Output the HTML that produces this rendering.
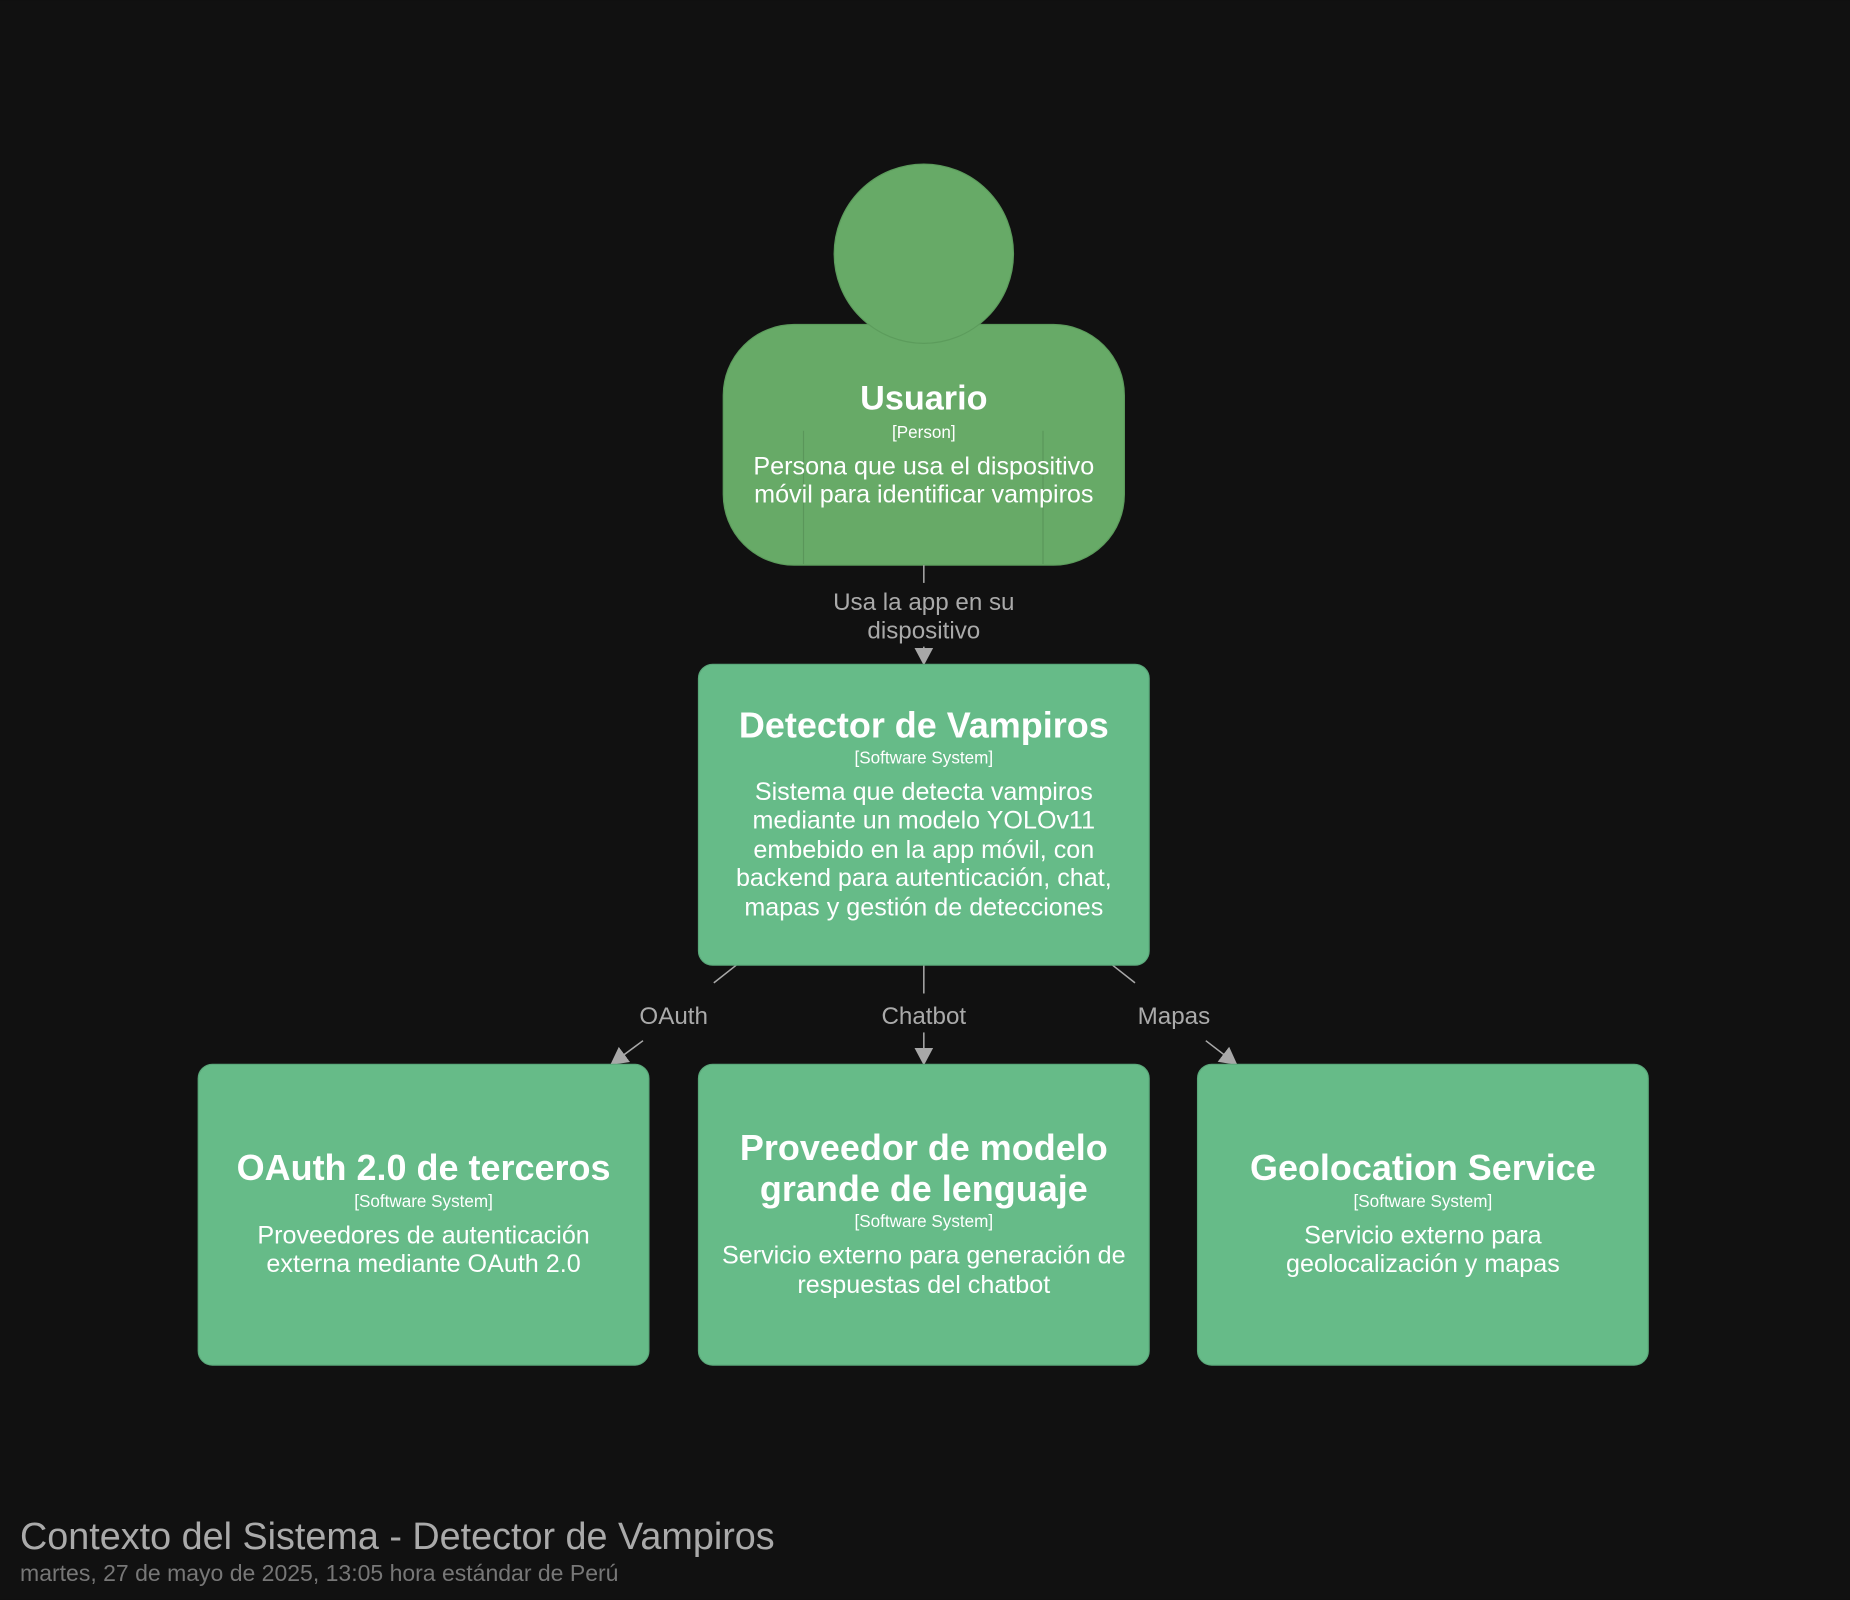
<!DOCTYPE html>
<html><head><meta charset="utf-8"><style>
html,body{margin:0;padding:0;background:#111111;}
svg{display:block;}
text{font-family:"Liberation Sans",sans-serif;}
</style></head><body>
<svg width="1850" height="1600" viewBox="0 0 1568 1356" xmlns="http://www.w3.org/2000/svg">
<rect width="1568" height="1356" fill="#111111"/>
<defs>
<marker id="a" markerWidth="16" markerHeight="16" refX="14" refY="8" orient="auto" markerUnits="userSpaceOnUse"><path d="M0,0 L15,8 L0,16 Z" fill="#a8a8a8"/></marker>
</defs>
<rect x="613" y="275" width="340" height="204" rx="60" fill="#67aa67" stroke="#5c9c5c" stroke-width="1"/>
<circle cx="783" cy="215" r="76" fill="#67aa67" stroke="#5c9c5c" stroke-width="1"/>
<line x1="681" y1="365" x2="681" y2="478" stroke="#5a965a"/>
<line x1="884" y1="365" x2="884" y2="478" stroke="#5a965a"/>
<g fill="#fff" text-anchor="middle">
<text x="783" y="347" font-size="29" font-weight="bold">Usuario</text>
<text x="783" y="371" font-size="14.5">[Person]</text>
<text x="783" y="402" font-size="21.3">Persona que usa el dispositivo</text>
<text x="783" y="426" font-size="21.3">móvil para identificar vampiros</text>
</g>
<g stroke="#a8a8a8" stroke-width="1.3" fill="none">
<line x1="783" y1="479" x2="783" y2="494"/>
<line x1="783" y1="548" x2="783" y2="563" marker-end="url(#a)"/>
<line x1="624" y1="818" x2="605" y2="833"/>
<line x1="545" y1="882" x2="518" y2="902" marker-end="url(#a)"/>
<line x1="783" y1="818" x2="783" y2="842"/>
<line x1="783" y1="875" x2="783" y2="902" marker-end="url(#a)"/>
<line x1="943" y1="818" x2="962" y2="833"/>
<line x1="1022" y1="882" x2="1048" y2="902" marker-end="url(#a)"/>
</g>
<g fill="#aaaaaa" font-size="20.5" text-anchor="middle">
<text x="783" y="517">Usa la app en su</text>
<text x="783" y="541">dispositivo</text>
<text x="571" y="868">OAuth</text>
<text x="783" y="868">Chatbot</text>
<text x="995" y="868">Mapas</text>
</g>
<g fill="#66bb88" stroke="#5aa87a" stroke-width="1">
<rect x="592" y="563" width="382" height="255" rx="12"/>
<rect x="168" y="902" width="382" height="255" rx="12"/>
<rect x="592" y="902" width="382" height="255" rx="12"/>
<rect x="1015" y="902" width="382" height="255" rx="12"/>
</g>
<g fill="#fff" text-anchor="middle">
<text x="783" y="625" font-size="30.5" font-weight="bold">Detector de Vampiros</text>
<text x="783" y="647" font-size="14.5">[Software System]</text>
<text x="783" y="678" font-size="21.3">Sistema que detecta vampiros</text>
<text x="783" y="702" font-size="21.3">mediante un modelo YOLOv11</text>
<text x="783" y="727" font-size="21.3">embebido en la app móvil, con</text>
<text x="783" y="751" font-size="21.3">backend para autenticación, chat,</text>
<text x="783" y="776" font-size="21.3">mapas y gestión de detecciones</text>

<text x="359" y="1000" font-size="30.5" font-weight="bold">OAuth 2.0 de terceros</text>
<text x="359" y="1023" font-size="14.5">[Software System]</text>
<text x="359" y="1054" font-size="21.3">Proveedores de autenticación</text>
<text x="359" y="1078" font-size="21.3">externa mediante OAuth 2.0</text>

<text x="783" y="983" font-size="30.5" font-weight="bold">Proveedor de modelo</text>
<text x="783" y="1018" font-size="30.5" font-weight="bold">grande de lenguaje</text>
<text x="783" y="1040" font-size="14.5">[Software System]</text>
<text x="783" y="1071" font-size="21.3">Servicio externo para generación de</text>
<text x="783" y="1096" font-size="21.3">respuestas del chatbot</text>

<text x="1206" y="1000" font-size="30.5" font-weight="bold">Geolocation Service</text>
<text x="1206" y="1023" font-size="14.5">[Software System]</text>
<text x="1206" y="1054" font-size="21.3">Servicio externo para</text>
<text x="1206" y="1078" font-size="21.3">geolocalización y mapas</text>
</g>
<text x="17" y="1313" font-size="32" fill="#aaaaaa">Contexto del Sistema - Detector de Vampiros</text>
<text x="17" y="1340" font-size="19.5" fill="#777777">martes, 27 de mayo de 2025, 13:05 hora estándar de Perú</text>
</svg>
</body></html>
